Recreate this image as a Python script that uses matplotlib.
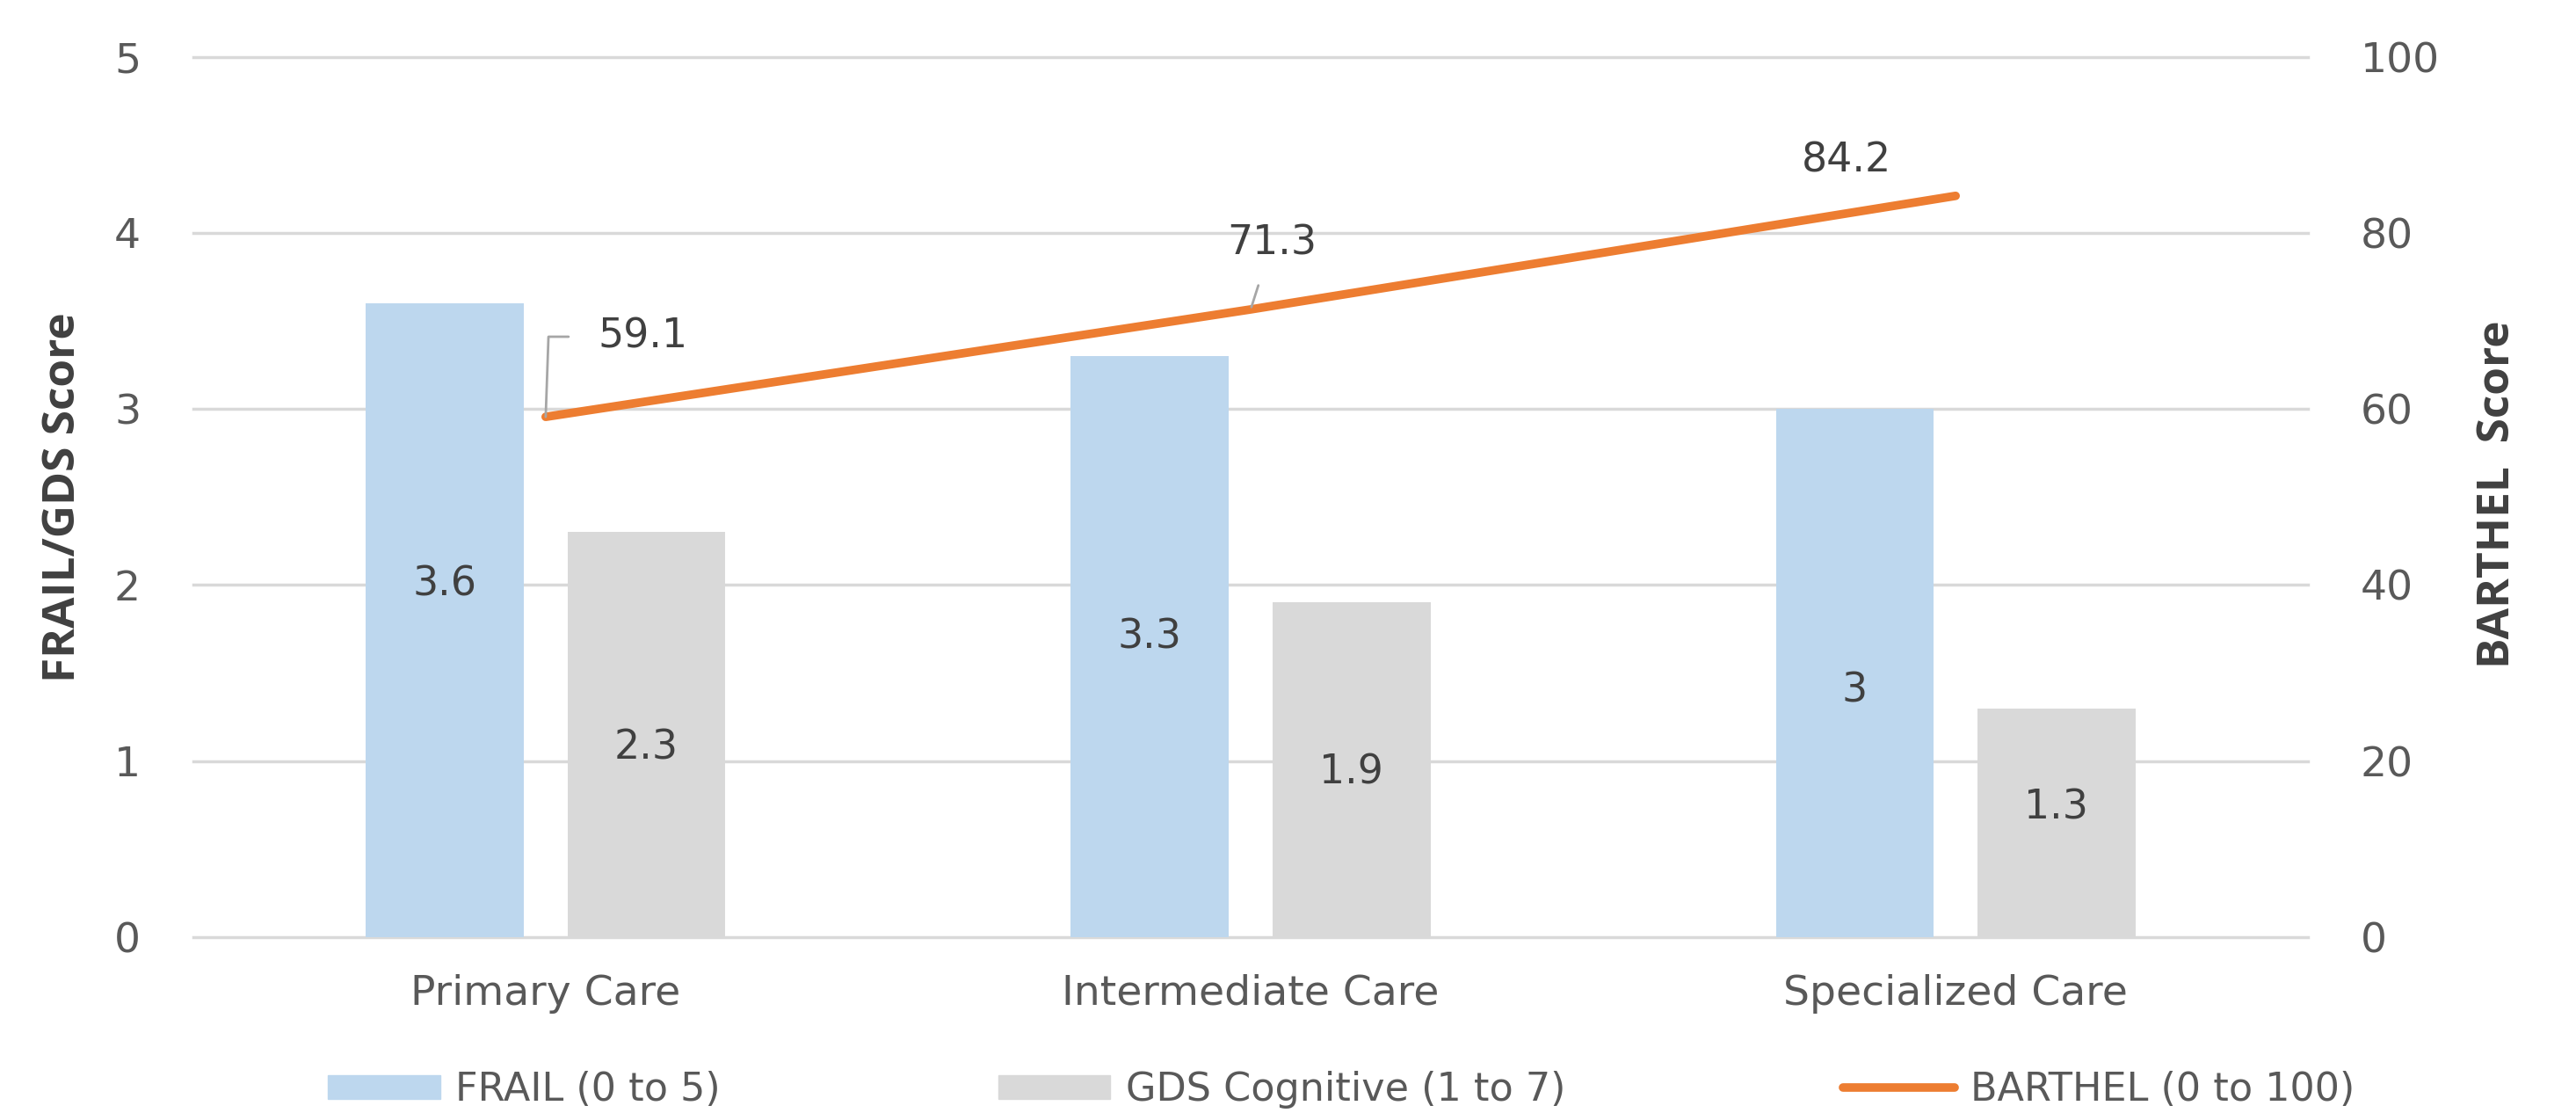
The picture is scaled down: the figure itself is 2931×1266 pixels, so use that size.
import numpy as np
import matplotlib.pyplot as plt
from matplotlib.patches import Patch
from matplotlib.lines import Line2D

plt.rcParams['font.family'] = ['DejaVu Sans']

# data
categories = ['Primary Care', 'Intermediate Care', 'Specialized Care']
frail = [3.6, 3.3, 3.0]
gds = [2.3, 1.9, 1.3]
barthel = [59.1, 71.3, 84.2]
frail_labels = ['3.6', '3.3', '3']
gds_labels = ['2.3', '1.9', '1.3']

c_frail = '#bdd7ee'
c_gds = '#d9d9d9'
c_line = '#ed7d31'
c_text = '#595959'
c_lab = '#404040'

fig = plt.figure(figsize=(29.31, 12.66), dpi=100)
ax = fig.add_axes([0.075, 0.158, 0.821, 0.791])
ax2 = ax.twinx()

x = np.arange(len(categories))
w = 0.224
off = 0.143

ax.bar(x - off, frail, w, color=c_frail, zorder=2)
ax.bar(x + off, gds, w, color=c_gds, zorder=2)

# data labels inside the bars
for xi, v, s in zip(x, frail, frail_labels):
    ax.text(xi - off, v - 1.6, s, ha='center', va='center', fontsize=33, color=c_lab)
for xi, v, s in zip(x, gds, gds_labels):
    ax.text(xi + off, 0.34 * v + 0.29, s, ha='center', va='center', fontsize=33, color=c_lab)

ax.set_xlim(-0.5, 2.5)
ax.set_ylim(0, 5)
ax.set_yticks(range(6))
ax.grid(axis='y', color='#d9d9d9', linewidth=2.5, zorder=0)
for gl in ax.get_ygridlines():
    gl.set_clip_on(False)
ax.set_axisbelow(True)
ax.set_xticks(x)
ax.set_xticklabels(categories)
ax.tick_params(length=0, labelsize=34, colors=c_text)
ax.tick_params(axis='x', pad=30)
ax.tick_params(axis='y', pad=43)
for sp in ax.spines.values():
    sp.set_visible(False)
ax.set_ylabel('FRAIL/GDS Score', fontsize=37, fontweight='bold', color=c_lab,
              family='Open Sans', va='center')
ax.yaxis.set_label_coords(-0.0615, 0.50)

ax2.plot(x, barthel, color=c_line, linewidth=7, solid_capstyle='round', zorder=3)
ax2.set_ylim(0, 100)
ax2.set_yticks(range(0, 101, 20))
ax2.tick_params(length=0, labelsize=34, colors=c_text, pad=43)
for sp in ax2.spines.values():
    sp.set_visible(False)
ax2.set_ylabel('BARTHEL  Score', fontsize=37, fontweight='bold', color=c_lab,
               family='Open Sans', va='center', rotation=90)
ax2.yaxis.set_label_coords(1.0898, 0.503)

# line labels
ax2.annotate('59.1', xy=(x[0], barthel[0]), xytext=(x[0] + 0.074, 68.2),
             fontsize=33, color=c_lab, va='center', ha='left',
             arrowprops=dict(arrowstyle='-', color='#a6a6a6', lw=2,
                             connectionstyle='angle,angleA=0,angleB=88,rad=0',
                             shrinkA=22, shrinkB=0))
ax2.annotate('71.3', xy=(x[1], barthel[1]), xytext=(x[1] + 0.03, 78.8),
             fontsize=33, color=c_lab, va='center', ha='center',
             arrowprops=dict(arrowstyle='-', color='#a6a6a6', lw=2,
                             shrinkA=17, shrinkB=2))
ax2.text(x[2] - 0.155, 88.2, '84.2', fontsize=33, color=c_lab, va='center', ha='center')

handles = [Patch(color=c_frail), Patch(color=c_gds),
           Line2D([], [], color=c_line, linewidth=7, solid_capstyle='round')]
fig.legend(handles, ['FRAIL (0 to 5)', 'GDS Cognitive (1 to 7)', 'BARTHEL (0 to 100)'],
           loc='center', bbox_to_anchor=(0.5207, 0.021), ncol=3, frameon=False,
           fontsize=32, labelcolor=c_text, handlelength=2.87, handleheight=0.57,
           columnspacing=7.1, handletextpad=0.4)

fig.savefig('out.png', dpi=100)
